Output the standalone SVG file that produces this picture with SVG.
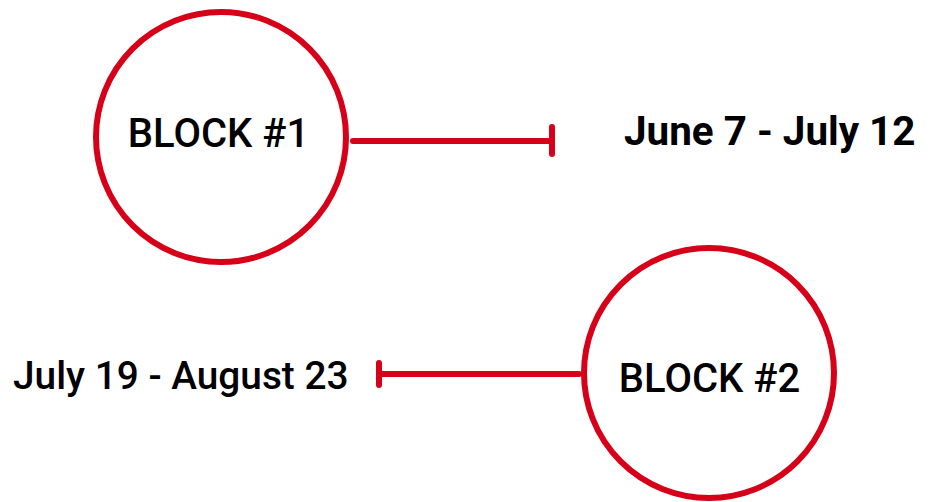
<svg xmlns="http://www.w3.org/2000/svg" width="932" height="502" viewBox="0 0 932 502">
<style>
.node{fill:#fff;stroke:#d60018;stroke-width:6}
.lbl{font-family:Roboto,"Liberation Sans",sans-serif;font-size:40px;font-weight:500;fill:#000;text-anchor:middle}
.date{font-family:Roboto,"Liberation Sans",sans-serif;fill:#000}
.conn{stroke:#d60018;stroke-width:6;stroke-linecap:round;fill:none}
</style>
<rect width="932" height="502" fill="#fff"/>
<g id="block1">
<circle class="node" cx="221" cy="137" r="125"/>
<text class="lbl" x="218.5" y="147">BLOCK #1</text>
</g>
<g id="block2">
<circle class="node" cx="709" cy="373" r="125"/>
<text class="lbl" x="709.5" y="392">BLOCK #2</text>
</g>
<g id="date1">
<text class="date" x="624" y="145" font-size="40.4" font-weight="700">June 7 - July 12</text>
</g>
<g id="date2">
<text class="date" x="13" y="389" font-size="38.8" font-weight="500">July 19 - August 23</text>
</g>
<g id="connectors">
<path class="conn" d="M353 141H552M552 127V154"/>
<path class="conn" d="M579 374H379M379 363V385"/>
</g>
</svg>
